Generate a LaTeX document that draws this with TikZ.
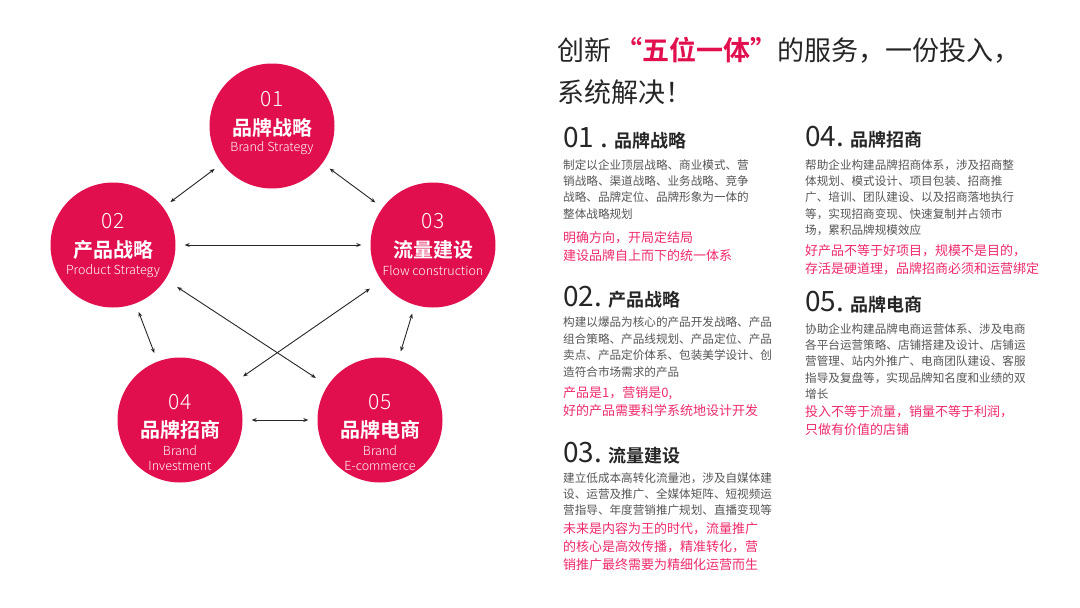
\documentclass[tikz,border=0pt]{standalone}
\usepackage{fontspec}
\setmainfont{Noto Sans CJK SC}[BoldFont={Noto Sans CJK SC Bold}]
\newfontfamily\lightf{Noto Sans CJK SC Light}
\usetikzlibrary{arrows.meta}
\definecolor{crim}{HTML}{E20F4F}
\definecolor{pinkt}{HTML}{EE2A6A}
\definecolor{bodyg}{HTML}{555555}
\definecolor{darkt}{HTML}{262626}
\tikzset{
 circ/.style={circle,fill=crim,minimum size=125pt,inner sep=0pt},
 link/.style={{Stealth[length=5pt,width=4pt]}-{Stealth[length=5pt,width=4pt]},draw=darkt,line width=0.9pt,shorten <=9pt,shorten >=9pt},
 num/.style={white,font=\lightf\fontsize{21}{22}\selectfont},
 cname/.style={white,font=\bfseries\fontsize{20}{22}\selectfont},
 ename/.style={white,font=\lightf\fontsize{12.5}{14.5}\selectfont,align=center},
 head/.style={anchor=west,text=darkt,inner sep=0pt},
 body/.style={anchor=north west,text=bodyg,inner sep=0pt,align=left,font=\fontsize{11.6}{16.4}\selectfont},
 red/.style={anchor=north west,text=pinkt,inner sep=0pt,align=left,font=\fontsize{13}{18.2}\selectfont},
}
\newcommand{\hd}[2]{{\fontsize{28}{28}\selectfont #1}\hspace{6pt}{\bfseries\fontsize{18}{20}\selectfont #2}}
\begin{document}
\begin{tikzpicture}[x=1pt,y=-1pt]
\useasboundingbox (0,0) rectangle (1080,608);
\node[circ] (c1) at (272,126) {};
\node[circ] (c2) at (113,245) {};
\node[circ] (c3) at (433,245) {};
\node[circ] (c4) at (180,420) {};
\node[circ] (c5) at (380,420) {};
\node[num] (n1) at (272,99) {01};
\node[cname] (t1) at (272,128) {品牌战略};
\node[ename] (e1) at (272,148) {Brand Strategy};
\node[num] (n2) at (113,221) {02};
\node[cname] (t2) at (113,250) {产品战略};
\node[ename] (e2) at (113,271) {Product Strategy};
\node[num] (n3) at (433,221) {03};
\node[cname] (t3) at (433,250) {流量建设};
\node[ename] (e3) at (433,271) {Flow construction};
\node[num] (n4) at (180,402) {04};
\node[cname] (t4) at (180,430) {品牌招商};
\node[ename] (e4) at (180,458) {Brand\\Investment};
\node[num] (n5) at (380,402) {05};
\node[cname] (t5) at (380,430) {品牌电商};
\node[ename] (e5) at (380,458) {Brand\\E-commerce};
\draw[link] (c1) -- (c2);
\draw[link] (c1) -- (c3);
\draw[link] (c2) -- (c3);
\draw[link] (c2) -- (c4);
\draw[link] (c3) -- (c5);
\draw[link] (c4) -- (c5);
\draw[link,shorten <=14pt,shorten >=14pt] (c2) -- (c5);
\draw[link,shorten <=14pt,shorten >=14pt] (c3) -- (c4);
% title
\node[anchor=west,inner sep=0pt,text=darkt,font=\fontsize{27}{30}\selectfont] (ti1) at (557,50) {创新\,{\color{crim}\bfseries “五位一体”}的服务，一份投入，};
\node[anchor=west,inner sep=0pt,text=darkt,font=\fontsize{27}{30}\selectfont] (ti2) at (557,92) {系统解决！};
% col 1
\node[head] (h1) at (563,138) {\hd{01 .}{品牌战略}};
\node[body] (b1) at (563,159) {制定以企业顶层战略、商业模式、营\\销战略、渠道战略、业务战略、竞争\\战略、品牌定位、品牌形象为一体的\\整体战略规划};
\node[red] (r1) at (563,231) {明确方向，开局定结局\\建设品牌自上而下的统一体系};
\node[head] (h2) at (563,297) {\hd{02.}{产品战略}};
\node[body] (b2) at (563,317) {构建以爆品为核心的产品开发战略、产品\\组合策略、产品线规划、产品定位、产品\\卖点、产品定价体系、包装美学设计、创\\造符合市场需求的产品};
\node[red] (r2) at (563,386) {产品是1，营销是0,\\好的产品需要科学系统地设计开发};
\node[head] (h3) at (563,453) {\hd{03.}{流量建设}};
\node[body] (b3) at (563,472) {建立低成本高转化流量池，涉及自媒体建\\设、运营及推广、全媒体矩阵、短视频运\\营指导、年度营销推广规划、直播变现等};
\node[red] (r3) at (563,522) {未来是内容为王的时代，流量推广\\的核心是高效传播，精准转化，营\\销推广最终需要为精细化运营而生};
% col 2
\node[head] (h4) at (805,137) {\hd{04.}{品牌招商}};
\node[body] (b4) at (805,159) {帮助企业构建品牌招商体系，涉及招商整\\体规划、模式设计、项目包装、招商推\\广、培训、团队建设、以及招商落地执行\\等，实现招商变现、快速复制并占领市\\场，累积品牌规模效应};
\node[red] (r4) at (805,244) {好产品不等于好项目，规模不是目的，\\存活是硬道理，品牌招商必须和运营绑定};
\node[head] (h5) at (805,302) {\hd{05.}{品牌电商}};
\node[body] (b5) at (805,323) {协助企业构建品牌电商运营体系、涉及电商\\各平台运营策略、店铺搭建及设计、店铺运\\营管理、站内外推广、电商团队建设、客服\\指导及复盘等，实现品牌知名度和业绩的双\\增长};
\node[red] (r5) at (805,405) {投入不等于流量，销量不等于利润，\\只做有价值的店铺};
\end{tikzpicture}
\end{document}
